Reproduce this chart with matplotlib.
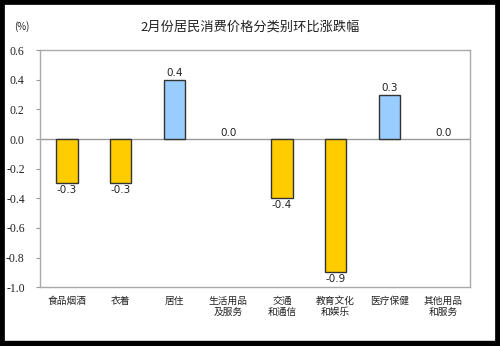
#!/usr/bin/env python

import numpy as np
import matplotlib.pyplot as plt
from matplotlib.patches import Rectangle

plt.rcParams["font.family"] = ["Noto Sans CJK SC", "DejaVu Sans"]

categories = ["食品烟酒", "衣着", "居住", "生活用品\n及服务", "交通\n和通信",
              "教育文化\n和娱乐", "医疗保健", "其他用品\n和服务"]
values = [-0.3, -0.3, 0.4, 0.0, -0.4, -0.9, 0.3, 0.0]
yticks = [0.6, 0.4, 0.2, 0.0, -0.2, -0.4, -0.6, -0.8, -1.0]

YELLOW = "#FFCC00"
BLUE = "#99CCFF"


def draw():
    fig = plt.figure(figsize=(5.0, 3.46), dpi=100)
    fig.patch.set_facecolor("white")
    ax = fig.add_axes([0.08, 0.17, 0.86, 0.685])

    x = np.arange(len(categories))
    colors = [BLUE if v > 0 else YELLOW for v in values]
    # zero-height bars get no outline, otherwise they show as a dark dash
    edges = ["#333333" if v != 0 else "none" for v in values]
    ax.bar(x, values, width=0.4, color=colors, edgecolor=edges,
           linewidth=1.0, zorder=3)

    for xi, v in zip(x, values):
        if v < 0:
            ax.text(xi, v - 0.01, f"{v:.1f}", ha="center", va="top",
                    fontsize=7.5, family="DejaVu Sans", color="#222222")
        else:
            ax.text(xi, v + 0.01, f"{v:.1f}", ha="center", va="bottom",
                    fontsize=7.5, family="DejaVu Sans", color="#222222")

    ax.axhline(0, color="#999999", lw=1.0, zorder=2)
    ax.set_xlim(-0.5, len(categories) - 0.5)
    ax.set_ylim(-1.0, 0.6)
    ax.set_yticks(yticks)
    ax.set_yticklabels([f"{t:.1f}" for t in yticks], family="Liberation Serif",
                       fontsize=8.5, color="#222222")
    ax.tick_params(axis="y", length=3, color="#999999", pad=8)
    ax.set_xticks(x)
    ax.set_xticklabels(categories, fontsize=7, color="#222222", linespacing=1.2)
    ax.tick_params(axis="x", length=0, pad=6)
    for s in ax.spines.values():
        s.set_color("#aaaaaa")
        s.set_linewidth(1.0)

    fig.text(0.5, 0.922, "2月份居民消费价格分类别环比涨跌幅", ha="center",
             va="center", fontsize=9.5, weight="medium", color="#222222")
    fig.text(0.028, 0.922, "(%)", ha="left", va="center", fontsize=7,
             color="#222222")

    # black frame round the whole picture
    fig.patches.append(Rectangle((0, 0), 1, 1, transform=fig.transFigure,
                                 fill=False, edgecolor="black", lw=7))
    fig.patches.append(Rectangle((0, 0), 1, 0.014, transform=fig.transFigure,
                                 color="black"))

    fig.savefig("out.png", dpi=100)


if __name__ == "__main__":
    draw()
